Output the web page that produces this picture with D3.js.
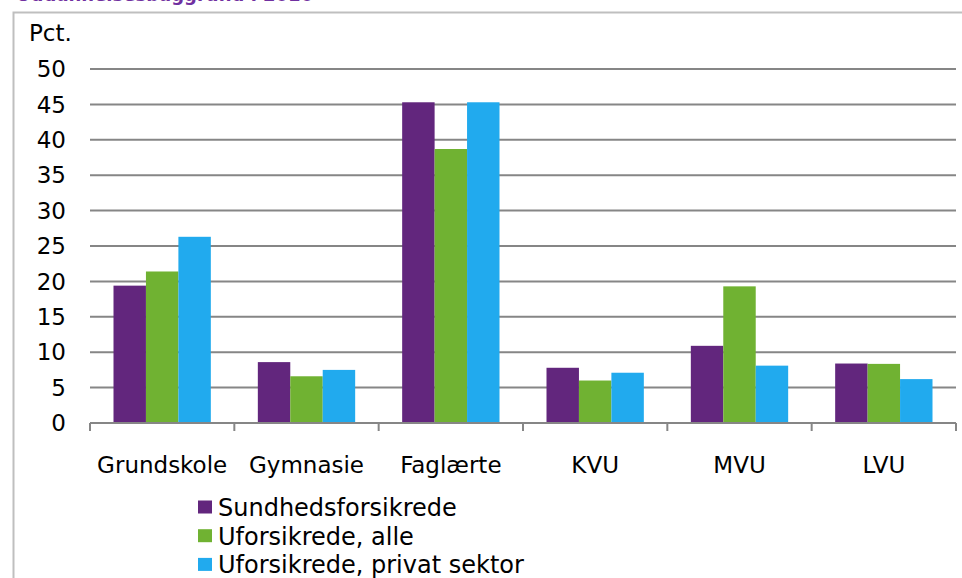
<!DOCTYPE html>
<html><head><meta charset="utf-8">
<script src="https://cdn.jsdelivr.net/npm/d3@7"></script>
<style>
html,body{margin:0;padding:0;background:#fff;}
text{font-family:"DejaVu Sans",Verdana,sans-serif;}
</style></head>
<body>
<svg id="chart" width="962" height="578"></svg>
<script>
const categories = ["Grundskole","Gymnasie","Faglærte","KVU","MVU","LVU"];
const seriesNames = ["Sundhedsforsikrede","Uforsikrede, alle","Uforsikrede, privat sektor"];
const sundhedsforsikrede = [19.4, 8.6, 45.3, 7.8, 10.9, 8.4];
const uforsikredeAlle = [21.4, 6.6, 38.7, 6.0, 19.3, 8.35];
const uforsikredePrivat = [26.3, 7.5, 45.3, 7.1, 8.1, 6.2];
const yTicks = [0,5,10,15,20,25,30,35,40,45,50];
const colors = ["#62267D","#70B232","#21AAEE"];
const seriesValues = [sundhedsforsikrede, uforsikredeAlle, uforsikredePrivat];

const svg = d3.select("#chart");
const mLeft = 90, mRight = 956, mTop = 69, mBottom = 423;
const fs = 23;

// cut-off title and frame
svg.append("text").attr("x",16).attr("y",1).attr("fill","#7030A0")
  .attr("font-weight","bold").attr("font-size",18).text("Uddannelsesbaggrund i 2010");
svg.append("path").attr("d","M13.5,578 V12.5 H962").attr("fill","none")
  .attr("stroke","#BFBFBF").attr("stroke-width",2);

const x0 = d3.scaleBand().domain(categories).range([mLeft,mRight]).padding(0);
const x1 = d3.scaleBand().domain(d3.range(3)).range([23.5, x0.bandwidth()-23.5]).padding(0);
const y = d3.scaleLinear().domain([0,50]).range([mBottom,mTop]);

// gridlines
svg.append("g").selectAll("line").data(yTicks.filter(d=>d>0)).join("line")
  .attr("x1",mLeft).attr("x2",mRight).attr("y1",d=>y(d)).attr("y2",d=>y(d))
  .attr("stroke","#868686").attr("stroke-width",2);

// y labels
svg.append("g").selectAll("text").data(yTicks).join("text")
  .attr("x",66).attr("y",d=>y(d)).attr("dy","0.36em").attr("text-anchor","end")
  .attr("font-size",fs).attr("fill","#000").text(d=>d);
svg.append("text").attr("x",29).attr("y",41).attr("font-size",fs).text("Pct.");

// bars
const groups = svg.append("g").selectAll("g").data(categories).join("g")
  .attr("transform",c=>`translate(${x0(c)},0)`);
groups.selectAll("rect").data((c,i)=>seriesValues.map((s,k)=>({k,v:s[i]}))).join("rect")
  .attr("x",d=>x1(d.k)).attr("width",x1.bandwidth())
  .attr("y",d=>y(d.v)).attr("height",d=>y(0)-y(d.v))
  .attr("fill",d=>colors[d.k]);

// x axis
const xAxis = d3.axisBottom(x0).tickSize(0).tickPadding(0);
svg.append("line").attr("x1",mLeft).attr("x2",mRight).attr("y1",mBottom).attr("y2",mBottom)
  .attr("stroke","#868686").attr("stroke-width",2);
svg.append("g").selectAll("line").data(d3.range(categories.length+1)).join("line")
  .attr("x1",i=>mLeft+i*x0.step()).attr("x2",i=>mLeft+i*x0.step())
  .attr("y1",mBottom).attr("y2",mBottom+8).attr("stroke","#868686").attr("stroke-width",2);
const gx = svg.append("g").attr("transform",`translate(0,${mBottom})`).call(xAxis);
gx.select(".domain").remove();
gx.selectAll("text").attr("font-size",fs).attr("fill","#000")
  .attr("font-family","'DejaVu Sans',Verdana,sans-serif").attr("dy",null).attr("y",50);

// legend
const lg = svg.append("g").selectAll("g").data(seriesNames).join("g")
  .attr("transform",(d,i)=>`translate(198,${507+i*28.7})`);
lg.append("rect").attr("x",0).attr("y",-6.5).attr("width",14).attr("height",13)
  .attr("fill",(d,i)=>colors[i]);
lg.append("text").attr("x",20).attr("y",9).attr("font-size",24).text(d=>d);
</script>
</body></html>
